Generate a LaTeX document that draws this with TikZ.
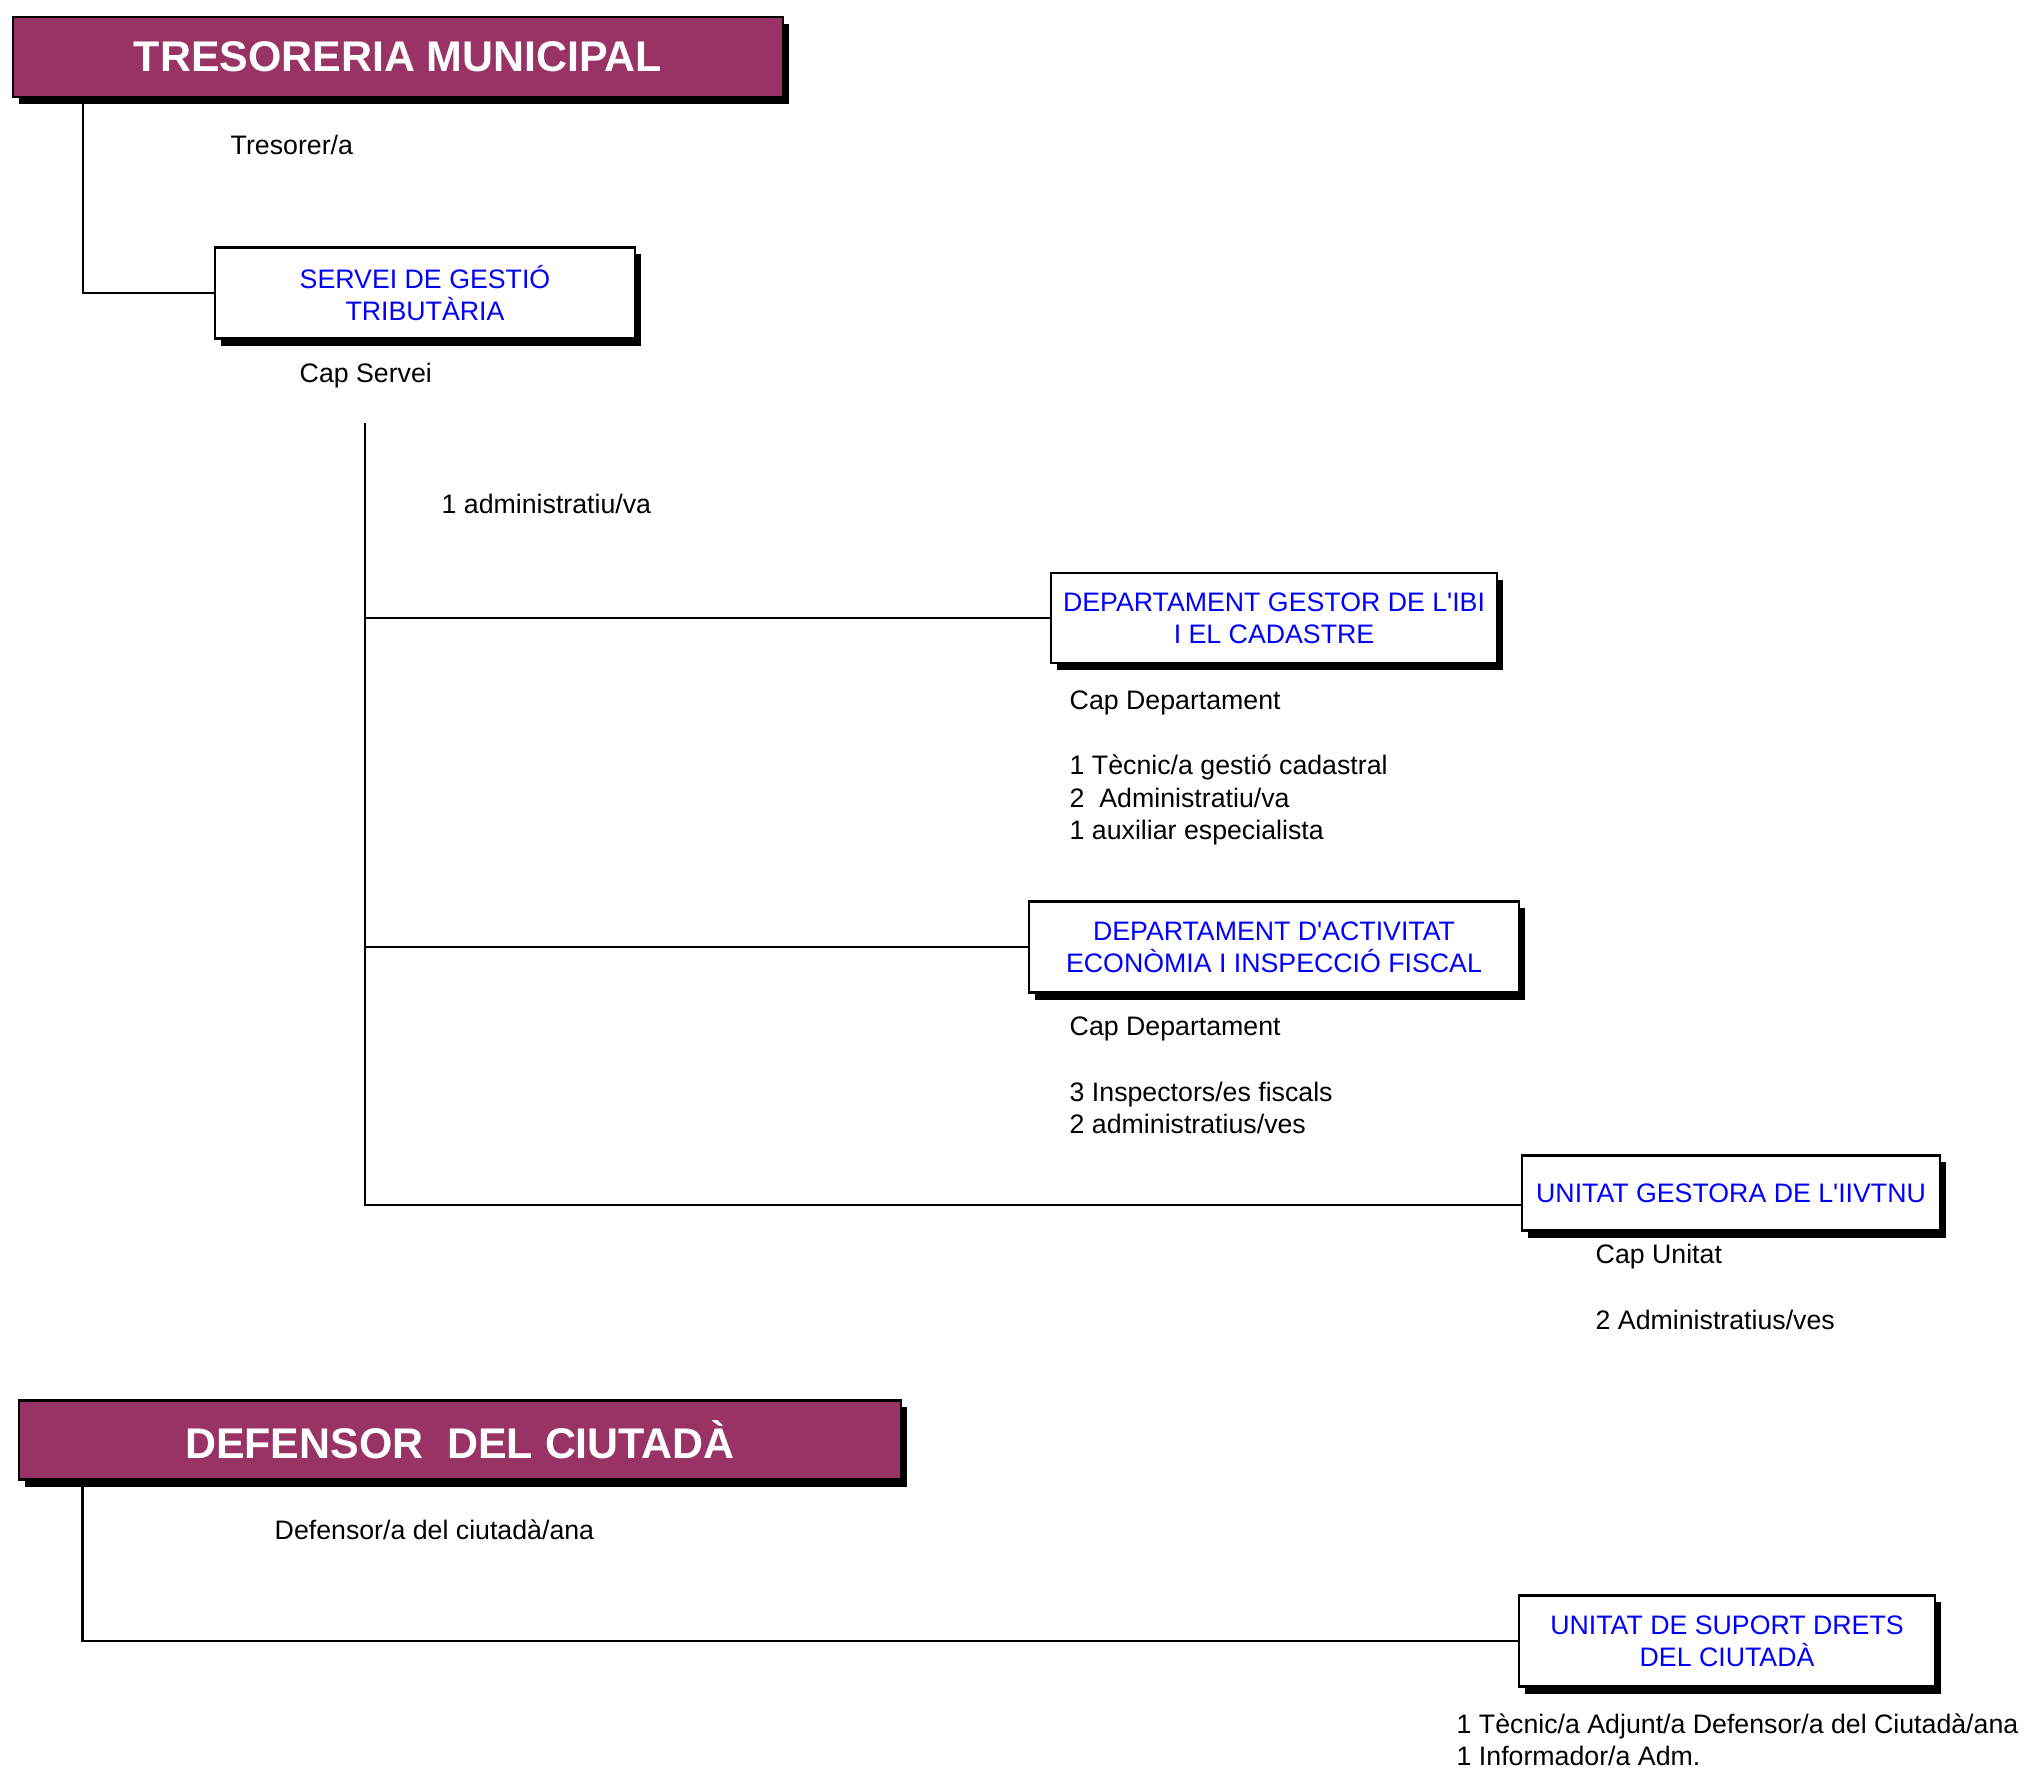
\documentclass[tikz,border=0pt]{standalone}
\usepackage{fontspec}
\setmainfont{Liberation Sans}[Ligatures=TeXOff]
\usetikzlibrary{shadows}
\definecolor{plum}{RGB}{153,51,102}
\tikzset{
  head/.style={draw, fill=plum, line width=0.6pt, text=white,
    font=\fontsize{12.2}{14}\selectfont\bfseries,
    general shadow={fill=black, shadow xshift=0.06cm, shadow yshift=-0.07cm}},
  unit/.style={draw, fill=white, line width=0.6pt, text=blue, align=center,
    font=\fontsize{7.6}{9.2}\selectfont,
    general shadow={fill=black, shadow xshift=0.06cm, shadow yshift=-0.07cm}},
  staff/.style={anchor=west, inner sep=0pt, align=left,
    font=\fontsize{7.6}{9.2}\selectfont},
  link/.style={line width=0.7pt}
}
\begin{document}
\begin{tikzpicture}[x=0.01cm, y=-0.01cm]
    \useasboundingbox (0, 0) rectangle (2027, 1774);

    % Tresoreria
    \path (398, 57) node [head, minimum width=7.7cm, minimum height=0.8cm]
          (treso) {TRESORERIA MUNICIPAL};
    \path (230, 145) node [staff] (tresorer) {Tresorer/a};

    % Servei de gestio
    \path (425, 293) node [unit, minimum width=4.2cm, minimum height=0.91cm]
          (servei) {SERVEI DE GESTIÓ\\TRIBUTÀRIA};
    \path (299, 376) node [staff] (capservei) {Cap Servei};
    \path (441, 504) node [staff] (admservei) {1 administratiu/va};
    \coordinate (spine) at (365, 423);

    % Departaments
    \path (1274, 618) node [unit, minimum width=4.46cm, minimum height=0.9cm]
          (ibi) {DEPARTAMENT GESTOR DE L'IBI\\I EL CADASTRE};
    \path (1069, 703) node [staff] (capibi) {Cap Departament};
    \path (1069, 800) node [staff] (staffibi)
          {1 Tècnic/a gestió cadastral\\2\ \ Administratiu/va\\1 auxiliar especialista};

    \path (1274, 947) node [unit, minimum width=4.9cm, minimum height=0.91cm]
          (iae) {DEPARTAMENT D'ACTIVITAT\\ECONÒMIA I INSPECCIÓ FISCAL};
    \path (1069, 1029) node [staff] (capiae) {Cap Departament};
    \path (1069, 1108) node [staff] (staffiae)
          {3 Inspectors/es fiscals\\2 administratius/ves};

    % Unitat
    \path (1731, 1193) node [unit, minimum width=4.17cm, minimum height=0.75cm]
          (iivtnu) {UNITAT GESTORA DE L'IIVTNU};
    \path (1595, 1257) node [staff] (capiivtnu) {Cap Unitat};
    \path (1595, 1320) node [staff] (staffiivtnu) {2 Administratius/ves};

    % Defensor
    \path (460, 1440) node [head, minimum width=8.82cm, minimum height=0.79cm]
          (defen) {DEFENSOR\ \ DEL CIUTADÀ};
    \path (274, 1530) node [staff] (defensor) {Defensor/a del ciutadà/ana};
    \path (1727, 1641) node [unit, minimum width=4.16cm, minimum height=0.91cm]
          (suport) {UNITAT DE SUPORT DRETS\\DEL CIUTADÀ};
    \path (1456, 1740) node [staff] (staffsuport)
          {1 Tècnic/a Adjunt/a Defensor/a del Ciutadà/ana\\1 Informador/a Adm.};

    % Connections
    \draw [link] ([xshift=0.71cm]treso.south west) |- (servei.west);
    \draw [link] (spine) |- (ibi.west);
    \draw [link] (spine) |- (iae.west);
    \draw [link] (spine) |- ([yshift=-0.12cm]iivtnu.west);
    \draw [link] ([xshift=0.65cm]defen.south west) |- (suport.west);
  \end{tikzpicture}
\end{document}
